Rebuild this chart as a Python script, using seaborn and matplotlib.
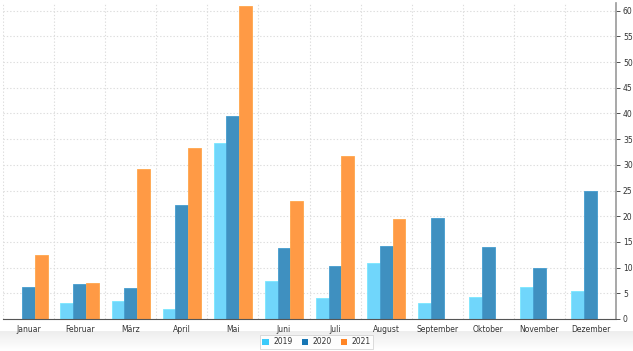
import numpy as np
import pandas as pd
import seaborn as sns
from matplotlib import pyplot as plt
from matplotlib.patches import Patch
from matplotlib.ticker import FixedLocator

months = ["Januar", "Februar", "März", "April", "Mai", "Juni", "Juli",
          "August", "September", "Oktober", "November", "Dezember"]
years = ["2019", "2020", "2021"]
v2019 = [0, 3.2, 3.5, 1.9, 34.2, 7.3, 4.0, 10.9, 3.2, 4.2, 6.2, 5.5]
v2020 = [6.3, 6.9, 6.0, 22.2, 39.6, 13.9, 10.3, 14.2, 19.7, 14.1, 9.9, 24.9]
v2021 = [12.4, 7.1, 29.1, 33.2, 60.9, 23.0, 31.7, 19.5,
         np.nan, np.nan, np.nan, np.nan]

bar_colors = ["#70D6FB", "#3F90C0", "#FF9A45"]
legend_colors = ["#3CCBFA", "#1776B4", "#FF8526"]

df = pd.DataFrame({
    "Monat": months * 3,
    "Jahr": [y for y in years for _ in months],
    "Wert": v2019 + v2020 + v2021,
})

sns.set_style("white")
plt.rcParams["font.family"] = ["DejaVu Sans"]

fig = plt.figure(figsize=(6.33, 3.51), dpi=100)
ax = fig.add_axes([3 / 633, 32 / 351, 613 / 633, 316 / 351])

sns.barplot(data=df, x="Monat", y="Wert", hue="Jahr", order=months,
            hue_order=years, palette=bar_colors, width=0.75, gap=0,
            saturation=1, legend=False, ax=ax, linewidth=0.6,
            edgecolor=None)
for bar in ax.patches:
    fc = bar.get_facecolor()
    bar.set_edgecolor(tuple(min(1, c * 1.08) for c in fc[:3]) + (1,))

ax.set_xlim(-0.5, 11.5)
ax.set_ylim(0, 61.5)
ax.set_xlabel("")
ax.set_ylabel("")

ax.yaxis.tick_right()
ax.set_yticks(range(0, 61, 5))
ax.tick_params(axis="y", labelsize=5.5, colors="#333333", length=3,
               width=0.6, pad=2)
ax.tick_params(axis="x", labelsize=5.5, colors="#333333", length=0, pad=4)
ax.xaxis.set_minor_locator(FixedLocator(np.arange(-0.5, 12, 1)))
ax.tick_params(axis="x", which="minor", length=3, width=0.6, color="#555555")

for s in ["top", "left"]:
    ax.spines[s].set_visible(False)
ax.spines["right"].set_color("#999999")
ax.spines["right"].set_linewidth(1.2)
ax.spines["bottom"].set_color("#555555")
ax.spines["bottom"].set_linewidth(0.8)

ax.set_axisbelow(True)
ax.grid(axis="y", color="#DDDDDD", linestyle=(0, (1.2, 1.8)), linewidth=0.8)
ax.grid(axis="x", which="minor", color="#DDDDDD", linestyle=(0, (1.2, 1.8)),
        linewidth=0.8)

# soft shading at the bottom of the figure
shade = fig.add_axes([0, 0, 1, 20 / 351], zorder=-1)
grad = np.linspace(0.93, 1.0, 50).reshape(-1, 1)
shade.imshow(grad, cmap="gray", vmin=0, vmax=1, aspect="auto",
             extent=[0, 1, 0, 1])
shade.axis("off")

handles = [Patch(facecolor=c, edgecolor="none") for c in legend_colors]
leg = fig.legend(handles, years, loc="lower center",
                 bbox_to_anchor=(0.5, 0.0), ncol=3, fontsize=5.5,
                 frameon=True, handlelength=0.8, handleheight=0.8,
                 handletextpad=0.6, columnspacing=1.2, borderpad=0.3,
                 borderaxespad=0.3, fancybox=False)
leg.get_frame().set_edgecolor("#CCCCCC")
leg.get_frame().set_linewidth(0.6)
for t in leg.get_texts():
    t.set_color("#333333")

fig.savefig("out.png", dpi=100)
